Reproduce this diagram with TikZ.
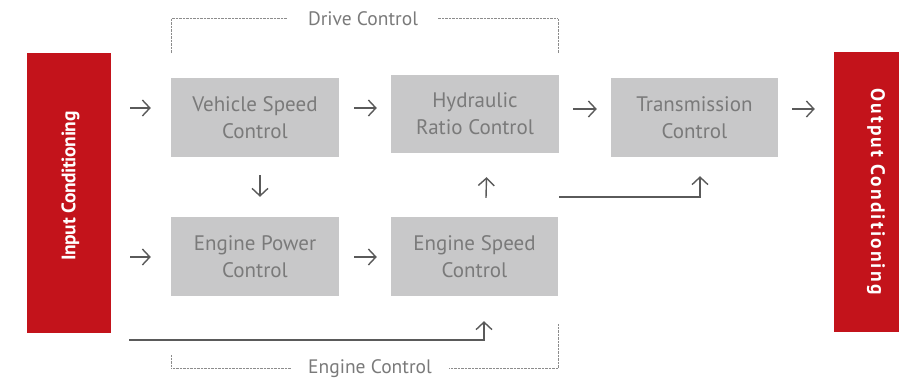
\documentclass[tikz,border=0pt]{standalone}
\usepackage{fontspec}
\setmainfont{PT Sans}
\usetikzlibrary{arrows.meta,calc}
\definecolor{cred}{HTML}{C3131B}
\definecolor{boxgray}{HTML}{C8C8C9}
\definecolor{txtgray}{HTML}{7A7A7A}
\definecolor{arrgray}{HTML}{5A5A5A}
\definecolor{dotgray}{HTML}{8C8C8C}
\begin{document}
\begin{tikzpicture}[x=1pt,y=-1pt,
 redbox/.style={fill=cred, draw=none, inner sep=0pt},
 redtxt/.style={text=white, font=\fontsize{19.5}{21}\selectfont\bfseries, inner sep=0pt},
 graybox/.style={fill=boxgray, draw=none, minimum width=168pt, minimum height=79pt, align=center, text=txtgray, font=\fontsize{21}{27}\selectfont, inner sep=0pt},
 arr/.style={draw=arrgray, line width=1.4pt, -{Straight Barb[length=7.5pt,width=16pt,line width=1.4pt]}},
 bracket/.style={draw=dotgray, line width=0.7pt, dash pattern=on 0.7pt off 0.7pt},
 lbl/.style={text=txtgray, font=\fontsize{19.5}{22}\selectfont, anchor=mid, inner ysep=0pt}
]
\useasboundingbox (0,0) rectangle (899,380);

% red side boxes
\node[redbox, minimum width=84pt, minimum height=280pt] (in) at (69,193) {};
\node[redtxt, rotate=90] (intxt) at (70.5,186) {\addfontfeatures{LetterSpace=-2}Input Conditioning};
\node[redbox, minimum width=65pt, minimum height=280pt] (out) at (866.5,192) {};
\node[redtxt, rotate=-90] (outtxt) at (876,191.5) {\addfontfeatures{LetterSpace=11}Output Conditioning};

% gray boxes
\node[graybox] (vsc) at (255,117.5) {Vehicle Speed\\Control};
\node[graybox, minimum height=78pt] (hrc) at (475,114) {Hydraulic\\Ratio Control};
\node[graybox, minimum width=167pt] (tc) at (694.5,117.5) {Transmission\\Control};
\node[graybox] (epc) at (255,256.5) {Engine Power\\Control};
\node[graybox, minimum width=167pt] (esc) at (474.5,256.5) {Engine Speed\\Control};

% short arrows
\draw[arr] ($(in.east|-0,108)+(19,0)$) -- ($(vsc.west|-0,108)+(-20,0)$);
\draw[arr] ($(vsc.east|-0,108)+(15,0)$) -- ($(hrc.west|-0,108)+(-14,0)$);
\draw[arr] ($(hrc.east|-0,109)+(14,0)$) -- ($(tc.west|-0,109)+(-14,0)$);
\draw[arr] ($(tc.east|-0,109)+(14,0)$) -- ($(out.west|-0,109)+(-19,0)$);
\draw[arr] ($(in.east|-0,257)+(19,0)$) -- ($(epc.west|-0,257)+(-20,0)$);
\draw[arr] ($(epc.east|-0,257)+(15,0)$) -- ($(esc.west|-0,257)+(-14,0)$);
\draw[arr] ($(vsc.south)+(5,18)$) -- ($(epc.north)+(5,-20)$);
\draw[arr] ($(esc.north)+(11.5,-19)$) -- ($(hrc.south)+(11.5,24)$);

% long connectors
\coordinate (lstart) at ($(in.east|-0,340)+(18,0)$);
\draw[arr] (lstart) -| ($(esc.south)+(9.5,25)$);
\draw[arr] ($(esc.east|-0,197)+(1,0)$) -| ($(tc.south)+(5.5,19)$);

% brackets
\node[lbl, inner xsep=20pt] (dc) at (363,23) {Drive Control};
\draw[bracket] (171,53) |- (dc.west);
\draw[bracket] (558,53) |- (dc.east);
\node[lbl, inner xsep=17.5pt] (ec) at (370,371) {Engine Control};
\draw[bracket] (171,355) |- (ec.west);
\draw[bracket] (558,324) |- (ec.east);
\end{tikzpicture}
\end{document}
